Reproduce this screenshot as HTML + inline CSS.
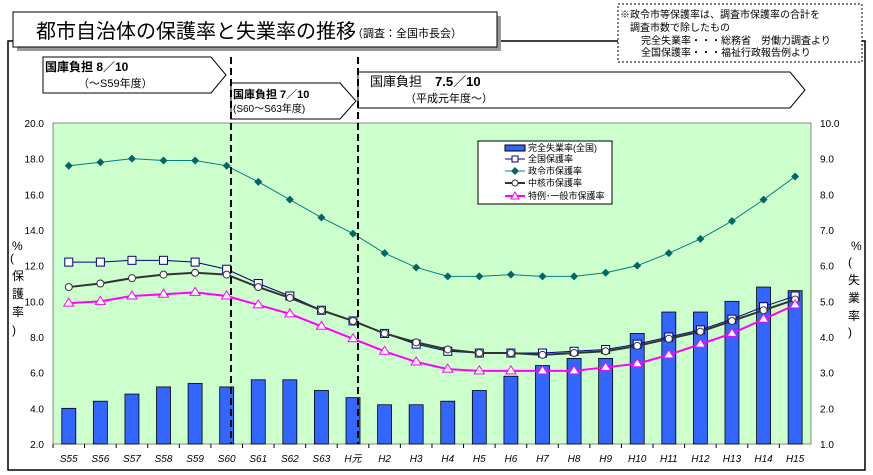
<!DOCTYPE html>
<html><head><meta charset="utf-8"><style>
html,body{margin:0;padding:0;background:#fff}
svg{display:block;font-family:"Liberation Sans","Noto Sans CJK JP",sans-serif}
</style></head><body>
<svg width="873" height="475" viewBox="0 0 873 475" xmlns="http://www.w3.org/2000/svg">
<rect x="8" y="41" width="857" height="429" fill="none" stroke="#000" stroke-width="1.5"/>
<rect x="17" y="16" width="484" height="35" fill="#999"/>
<rect x="13" y="12" width="484" height="35" fill="#fff" stroke="#000"/>
<text x="36" y="38" font-size="20">都市自治体の保護率と失業率の推移</text>
<text x="352" y="37" font-size="11">（調査：全国市長会）</text>
<rect x="618" y="4" width="244" height="58" fill="#fff" stroke="#000" stroke-dasharray="2,2"/>
<text font-size="10"><tspan x="620" y="18">※政令市等保護率は、調査市保護率の合計を</tspan><tspan x="630" y="31">調査市数で除したもの</tspan><tspan x="641" y="44">完全失業率・・・総務省　労働力調査より</tspan><tspan x="641" y="56">全国保護率・・・福祉行政報告例より</tspan></text>
<polygon points="43,57 211,57 226,75 211,93 43,93" fill="#fff" stroke="#000"/>
<text x="45" y="71" font-size="12" font-weight="bold">国庫負担  8／10</text>
<text x="78" y="87" font-size="11">（～S59年度）</text>
<polygon points="231,83 340,83 356,101 340,119 231,119" fill="#fff" stroke="#000"/>
<text x="233" y="98" font-size="11" font-weight="bold">国庫負担 7／10</text>
<text x="233" y="112" font-size="10">(S60～S63年度)</text>
<polygon points="358,72 790,72 805,90 790,108 358,108" fill="#fff" stroke="#000"/>
<text x="370" y="86" font-size="13">国庫負担　<tspan font-weight="bold">7.5／10</tspan></text>
<text x="405" y="102" font-size="11">（平成元年度～）</text>
<rect x="53" y="123" width="758" height="321" fill="#ccffcc" stroke="#888"/>
<g font-size="10" text-anchor="end" id="ly"></g>
<g id="g"></g>
<line x1="231" y1="57" x2="231" y2="444" stroke="#000" stroke-width="2" stroke-dasharray="7,4"/>
<line x1="358" y1="57" x2="358" y2="444" stroke="#000" stroke-width="2" stroke-dasharray="7,4"/>
<text x="12" y="250" font-size="12">%</text>
<g font-size="12"><text x="10" y="262">(</text><text x="12" y="280">保</text><text x="12" y="298">護</text><text x="12" y="316">率</text><text x="12" y="334">)</text></g>
<text x="851" y="250" font-size="12">%</text>
<g font-size="12"><text x="848" y="266">(</text><text x="848" y="284">失</text><text x="848" y="302">業</text><text x="848" y="320">率</text><text x="848" y="336">)</text></g>
<rect x="478" y="141" width="134" height="63" fill="#fff" stroke="#000"/>
<g font-size="9">
<rect x="505" y="145" width="20" height="6" fill="#3366ff" stroke="#000"/><text x="528" y="151">完全失業率(全国)</text>
<line x1="505" y1="159" x2="525" y2="159" stroke="#000080"/><rect x="512" y="156" width="6" height="6" fill="#fff" stroke="#000080"/><text x="528" y="162">全国保護率</text>
<line x1="505" y1="171" x2="525" y2="171" stroke="#008080"/><polygon points="515,167 519,171 515,175 511,171" fill="#006666"/><text x="528" y="174">政令市保護率</text>
<line x1="505" y1="183" x2="525" y2="183" stroke="#333" stroke-width="2"/><circle cx="515" cy="183" r="3" fill="#fff" stroke="#333"/><text x="528" y="186">中核市保護率</text>
<line x1="505" y1="196" x2="525" y2="196" stroke="#ff00ff" stroke-width="2"/><polygon points="515,192 519,199 511,199" fill="#fff" stroke="#ff00ff"/><text x="528" y="199">特例･一般市保護率</text>
</g>
<script>
var ns="http://www.w3.org/2000/svg";
function Y(v){return 444-(v-2)*321/18}
function X(i){return 53+31.58*(i+0.5)}
var g=document.getElementById('g'),ly=document.getElementById('ly');
function el(t,a,p){var e=document.createElementNS(ns,t);for(var k in a)e.setAttribute(k,a[k]);(p||g).appendChild(e);return e}
for(var v=2;v<=20;v+=2){var t=el('text',{x:44,y:Y(v)+4},ly);t.textContent=v.toFixed(1);
var t2=el('text',{x:820,y:Y(v)+4,'text-anchor':'start','font-size':10},g);t2.textContent=(v/2).toFixed(1);}
var labs=["S55","S56","S57","S58","S59","S60","S61","S62","S63","H元","H2","H3","H4","H5","H6","H7","H8","H9","H10","H11","H12","H13","H14","H15"];
var bars=[4.0,4.4,4.8,5.2,5.4,5.2,5.6,5.6,5.0,4.6,4.2,4.2,4.4,5.0,5.8,6.4,6.8,6.8,8.2,9.4,9.4,10.0,10.8,10.6];
for(var i=0;i<24;i++){el('rect',{x:X(i)-7,y:Y(bars[i]),width:14,height:444-Y(bars[i]),fill:'#3366ff',stroke:'#000','stroke-width':0.8});
var t=el('text',{x:X(i),y:462,'text-anchor':'middle','font-size':10,'font-style':'italic'});t.textContent=labs[i];
el('line',{x1:53+31.58*i,y1:444,x2:53+31.58*i,y2:448,stroke:'#000'});}
function ser(d,col,w,mk){var p=d.map(function(v,i){return X(i)+','+Y(v)}).join(' ');
el('polyline',{points:p,fill:'none',stroke:col,'stroke-width':w});
d.forEach(function(v,i){var x=X(i),y=Y(v);
if(mk=='s')el('rect',{x:x-4,y:y-4,width:8,height:8,fill:'#fff',stroke:'#000080'});
if(mk=='d')el('polygon',{points:(x)+','+(y-4)+' '+(x+4)+','+y+' '+x+','+(y+4)+' '+(x-4)+','+y,fill:'#006666'});
if(mk=='c')el('circle',{cx:x,cy:y,r:3.5,fill:'#fff',stroke:'#333'});
if(mk=='t')el('polygon',{points:x+','+(y-5)+' '+(x+5)+','+(y+3)+' '+(x-5)+','+(y+3),fill:'#fff',stroke:'#ff00ff'});});}
ser([17.6,17.8,18.0,17.9,17.9,17.6,16.7,15.7,14.7,13.8,12.7,11.9,11.4,11.4,11.5,11.4,11.4,11.6,12.0,12.7,13.5,14.5,15.7,17.0],'#008080',1,'d');
ser([12.2,12.2,12.3,12.3,12.2,11.8,11.0,10.3,9.5,8.9,8.2,7.6,7.2,7.1,7.1,7.1,7.2,7.3,7.6,8.0,8.4,9.0,9.7,10.3],'#000080',1,'s');
ser([10.8,11.0,11.3,11.5,11.6,11.5,10.8,10.2,9.5,8.9,8.2,7.7,7.3,7.1,7.1,7.0,7.1,7.2,7.5,7.9,8.3,8.9,9.5,10.1],'#333',2,'c');
ser([9.9,10.0,10.3,10.4,10.5,10.3,9.8,9.3,8.6,7.9,7.2,6.6,6.2,6.1,6.1,6.1,6.1,6.3,6.5,7.0,7.6,8.2,9.0,9.8],'#ff00ff',2,'t');
</script>
</svg>
</body></html>
